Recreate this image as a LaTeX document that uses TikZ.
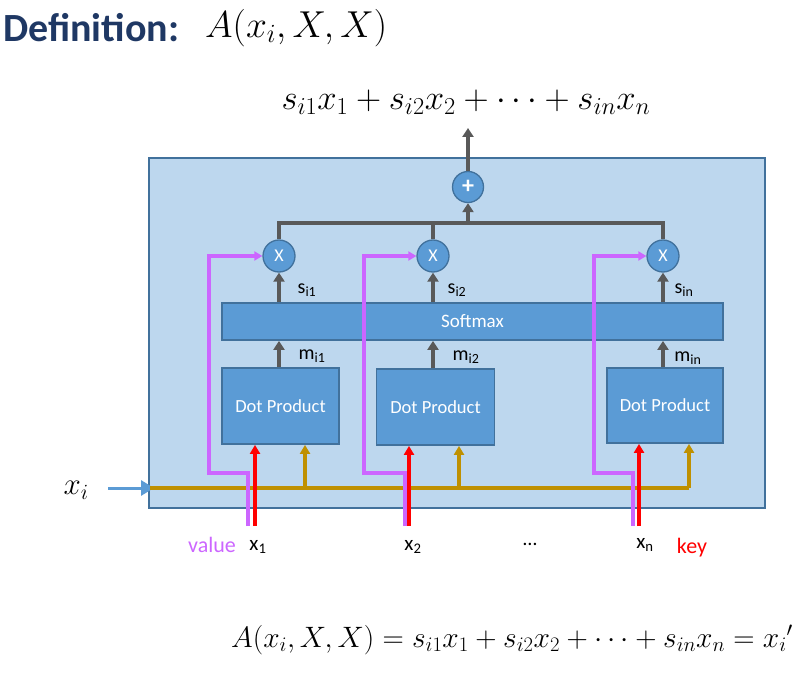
\RequirePackage{fix-cm}
\documentclass[tikz,border=0pt]{standalone}
\usepackage{fontspec}
\setmainfont{Carlito}
\usetikzlibrary{arrows.meta}
\definecolor{boxfill}{HTML}{BDD7EE}
\definecolor{boxline}{HTML}{41719C}
\definecolor{nodefill}{HTML}{5B9BD5}
\definecolor{darkline}{HTML}{595959}
\definecolor{goldline}{HTML}{BF9000}
\definecolor{purp}{HTML}{CC66FF}
\definecolor{navy}{HTML}{1F3864}
\newcommand{\fs}[1]{\fontsize{#1}{#1}\selectfont}
\tikzset{
  opnode/.style={circle, fill=nodefill, draw=boxline, line width=1.3pt, minimum size=31pt, inner sep=0pt, text=white},
  blockbox/.style={rectangle, fill=nodefill, draw=boxline, line width=1.8pt, inner sep=0pt, text=white},
  darkarrow/.style={draw=darkline, line width=3.5pt, -{Triangle[length=9pt,width=11pt]}},
  darkline/.style={draw=darkline, line width=3.5pt},
  redarrow/.style={draw=red, line width=3.8pt, -{Triangle[length=9pt,width=10pt]}},
  goldarrow/.style={draw=goldline, line width=3.6pt, -{Triangle[length=9pt,width=10pt]}},
  goldpath/.style={draw=goldline, line width=4pt},
  purparrow/.style={draw=purp, line width=3.8pt, -{Triangle[length=8pt,width=9pt]}},
  bluearrow/.style={draw=nodefill, line width=3pt, -{Triangle[length=13pt,width=15pt]}},
  lbl/.style={inner sep=0pt, font=\fs{20}},
}
\begin{document}
\begin{tikzpicture}[x=1pt,y=-1pt]
\useasboundingbox (0,0) rectangle (809,682);
% title
\node[anchor=west, inner sep=0pt, text=navy, font=\fs{40}\bfseries] (deftitle) at (3,28) {Definition:};
\node[anchor=west, inner sep=0pt, font=\fs{37.5}] (defmath) at (205,28) {$A(x_i,X,X)$};
% outer box
\node[draw=boxline, fill=boxfill, line width=2pt, minimum width=616pt, minimum height=350pt, inner sep=0pt, anchor=north west] (outer) at (148,157) {};
% top formula
\node[inner sep=0pt, font=\fs{34.8}] (topf) at (466,102) {$s_{i1}x_1+s_{i2}x_2+\cdots+s_{in}x_n$};
\coordinate (outtip) at (468,128);
% operators
\node[opnode, font=\fs{24}\bfseries] (plus) at (468,187) {+};
\node[opnode, minimum size=32pt, font=\fs{18}] (mult1) at (279,256) {X};
\node[opnode, minimum size=32pt, font=\fs{18}] (mult2) at (433,256) {X};
\node[opnode, minimum size=32pt, font=\fs{18}] (mult3) at (663,256) {X};
% softmax
\node[blockbox, minimum width=501pt, minimum height=37pt, font=\fs{19}] (softmax) at (472.5,321.5) {Softmax};
% dot products
\node[blockbox, minimum width=117pt, minimum height=76pt, font=\fs{18.5}] (dp1) at (280.5,406) {Dot Product};
\node[blockbox, minimum width=118pt, minimum height=76pt, font=\fs{18.5}] (dp2) at (435.5,407) {Dot Product};
\node[blockbox, minimum width=116pt, minimum height=75pt, font=\fs{18.5}] (dp3) at (665,405.5) {Dot Product};
% output arrow and sum bar
\draw[darkarrow] (plus.north) -- (outtip);
\coordinate (bar) at (468,223);
\draw[darkline] (mult1.north) -- (mult1.north |- bar) -- (mult3.north |- bar) -- (mult3.north);
\draw[darkline] (mult2.north) -- (mult2.north |- bar);
\draw[darkarrow] (bar) -- (plus.south);
% softmax to mult
\draw[darkarrow] (softmax.north -| mult1) -- (mult1.south);
\draw[darkarrow] (softmax.north -| mult2) -- (mult2.south);
\draw[darkarrow] (softmax.north -| mult3) -- (mult3.south);
% dp to softmax
\draw[darkarrow] (dp1.north -| mult1) -- (softmax.south -| mult1);
\draw[darkarrow] (dp2.north -| mult2) -- (softmax.south -| mult2);
\draw[darkarrow] (dp3.north -| mult3) -- (softmax.south -| mult3);
% s and m labels
\node[lbl] (s1) at (307,290) {s\textsubscript{i1}};
\node[lbl] (s2) at (457,290) {s\textsubscript{i2}};
\node[lbl] (s3) at (684,290) {s\textsubscript{in}};
\node[lbl] (m1) at (312,356) {m\textsubscript{i1}};
\node[lbl] (m2) at (466,357) {m\textsubscript{i2}};
\node[lbl] (m3) at (688,358) {m\textsubscript{in}};
% query line
\node[inner sep=0pt, font=\fs{31}] (xi) at (76,490) {$x_i$};
\coordinate (bluestart) at (108,488);
\coordinate (bluetip) at (154,488);
\draw[bluearrow] (bluestart) -- (bluetip);
\coordinate (gstart) at (150,488);
\coordinate (gend) at (689,488);
\draw[goldpath] (gstart) -- (gend);
\draw[goldarrow] (gend) -- (dp3.south -| gend);
\coordinate (g1) at (305,488);
\coordinate (g2) at (459,488);
\draw[goldarrow] (g1) -- (dp1.south -| g1);
\draw[goldarrow] (g2) -- (dp2.south -| g2);
% key (red) arrows
\coordinate (r1) at (255,526);
\coordinate (r2) at (409,526);
\coordinate (r3) at (639,526);
\draw[redarrow] (r1) -- (dp1.south -| r1);
\draw[redarrow] (r2) -- (dp2.south -| r2);
\draw[redarrow] (r3) -- (dp3.south -| r3);
% value (purple) paths
\coordinate (p1) at (248,526);
\coordinate (p2) at (405,526);
\coordinate (p3) at (633,526);
\coordinate (q1) at (209,473);
\coordinate (q2) at (364,473);
\coordinate (q3) at (594,473);
\draw[purparrow] (p1) |- (q1) |- (mult1.west);
\draw[purparrow] (p2) |- (q2) |- (mult2.west);
\draw[purparrow] (p3) |- (q3) |- (mult3.west);
% bottom labels
\node[inner sep=0pt, text=purp, font=\fs{22}] (value) at (212,545) {value};
\node[lbl, font=\fs{21}] (x1) at (258,547) {x\textsubscript{1}};
\node[lbl, font=\fs{21}] (x2) at (413,547) {x\textsubscript{2}};
\node[lbl] (dots) at (530,544) {\dots};
\node[lbl, font=\fs{21}] (xn) at (645,545) {x\textsubscript{n}};
\node[inner sep=0pt, text=red, font=\fs{22}] (key) at (692,548) {key};
% bottom formula
\node[inner sep=0pt, font=\fs{29.5}] (botf) at (512,640) {$A(x_i,X,X)=s_{i1}x_1+s_{i2}x_2+\cdots+s_{in}x_n={x_i}'$};
\end{tikzpicture}
\end{document}
